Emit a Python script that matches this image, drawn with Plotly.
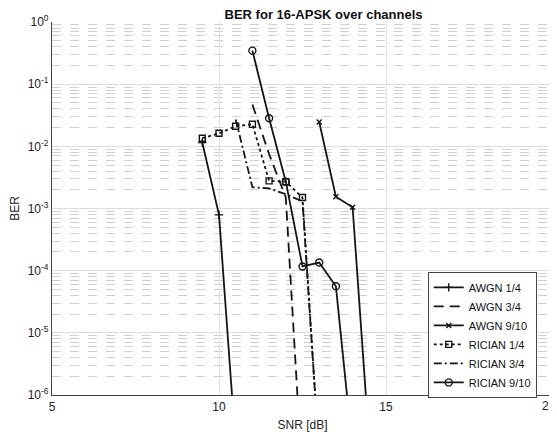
import plotly.graph_objects as go

# ---- data ----
awgn14_x = [9.5, 10.0, 10.5]
awgn14_y = [0.0115, 7.9e-4, 1.5e-7]

awgn34_x = [11.0, 11.5, 12.0, 12.5]
awgn34_y = [0.047, 0.0075, 0.0015, 4e-8]

awgn910_x = [13.0, 13.5, 14.0, 14.5]
awgn910_y = [0.0246, 0.00155, 0.00105, 1.6e-7]

ric14_x = [9.5, 10.0, 10.5, 11.0, 11.5, 12.0, 12.5, 13.0]
ric14_y = [0.0135, 0.0162, 0.021, 0.0227, 0.00278, 0.0027, 0.0015, 1e-7]

ric34_x = [10.5, 11.0, 11.5, 12.0, 12.5, 13.0]
ric34_y = [0.027, 0.0022, 0.0021, 0.0017, 0.0013, 1e-7]

ric910_x = [11.0, 11.5, 12.0, 12.5, 13.0, 13.5, 14.0]
ric910_y = [0.346, 0.0283, 0.0027, 1.17e-4, 1.35e-4, 5.6e-5, 1.3e-7]

y_tickvals = [1e-6, 1e-5, 1e-4, 1e-3, 1e-2, 1e-1, 1]
y_ticktext = ["10<sup>-6</sup>", "10<sup>-5</sup>", "10<sup>-4</sup>", "10<sup>-3</sup>",
              "10<sup>-2</sup>", "10<sup>-1</sup>", "10<sup>0</sup>"]
x_tickvals = [5, 10, 15]
x_last_tick = 20

LC = "#151515"
fig = go.Figure()

def add(name, x, y, dash, symbol=None, msize=6):
    mode = "lines+markers" if symbol else "lines"
    kw = {}
    if symbol:
        kw["marker"] = dict(symbol=symbol, size=msize, color=LC,
                            line=dict(color=LC, width=1.4))
    fig.add_trace(go.Scatter(
        x=x, y=y, name=name, mode=mode,
        line=dict(color=LC, width=1.8, dash=dash), **kw))

add("AWGN 1/4", awgn14_x, awgn14_y, "solid", "cross-thin", 6)
add("AWGN 3/4", awgn34_x, awgn34_y, "10px,6px")
add("AWGN 9/10", awgn910_x, awgn910_y, "solid", "x-thin", 5)
add("RICIAN 1/4", ric14_x, ric14_y, "dot", "square-open", 6)
add("RICIAN 3/4", ric34_x, ric34_y, "8px,3px,2px,3px")
add("RICIAN 9/10", ric910_x, ric910_y, "solid", "circle-open", 7)

# the page body has an 8px margin, so the figure is sized to fit the window
W, H = 549, 424
fig.update_layout(
    width=W, height=H,
    margin=dict(l=44, r=4, t=14, b=37),
    paper_bgcolor="white", plot_bgcolor="white",
    font=dict(family="Liberation Sans, Arial, sans-serif", size=12, color="#222"),
    title=dict(text="<b>BER for 16-APSK over channels</b>", x=0.542, xanchor="center",
               xref="paper", yref="container", y=1 - 2 / H, yanchor="top",
               pad=dict(t=0, b=0),
               font=dict(size=13, color="#111")),
    showlegend=True,
    legend=dict(x=0.75, y=0.33, xanchor="left", yanchor="top",
                bgcolor="white", bordercolor="#444", borderwidth=1,
                font=dict(size=11, color="#111"), tracegroupgap=0,
                itemwidth=30),
    annotations=[dict(x=x_last_tick, xref="x", y=0, yref="paper", text=str(x_last_tick),
                      showarrow=False, xanchor="center", yanchor="top", yshift=-2,
                      xshift=-4, font=dict(size=12, color="#222"))],
)
fig.update_xaxes(
    range=[5, 20], tickvals=x_tickvals, ticks="", showline=True, linecolor="#444",
    linewidth=1.2, showgrid=True, gridcolor="#e2e2e2", gridwidth=1, zeroline=False,
    automargin=False,
    title=dict(text="SNR [dB]", font=dict(size=12)),
    tickfont=dict(size=12),
)
fig.update_yaxes(
    type="log", range=[-6, 0], tickvals=y_tickvals, ticktext=y_ticktext,
    ticks="", showline=True, linecolor="#444", linewidth=1.2,
    showgrid=True, gridcolor="#dcdcdc", gridwidth=1.2, zeroline=False,
    automargin=False,
    minor=dict(showgrid=True, gridcolor="#cfcfcf", griddash="dash", dtick="D1", gridwidth=1),
    title=dict(text="BER", font=dict(size=12)),
    tickfont=dict(size=12),
)

fig.write_html("out.html")
